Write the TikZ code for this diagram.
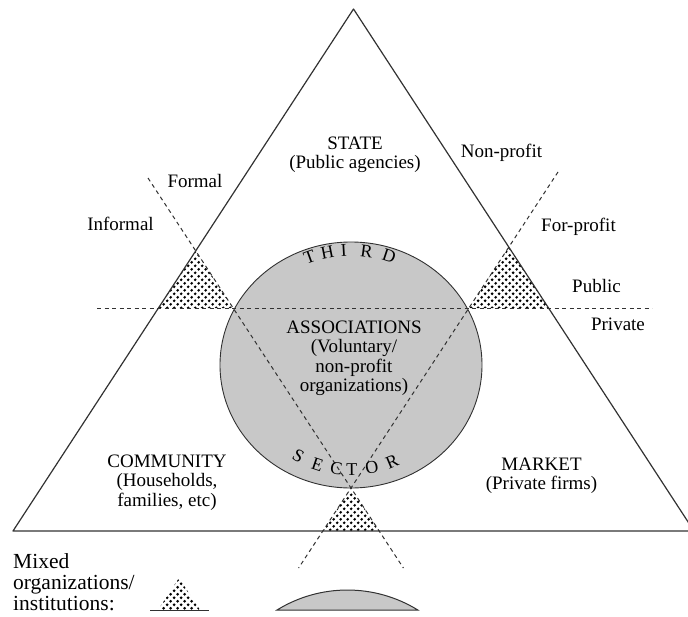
\documentclass[tikz,border=0pt]{standalone}
\usepackage{fontspec}
\setmainfont{Liberation Serif}
\usetikzlibrary{patterns.meta}

\definecolor{circgray}{RGB}{200,200,200}
\definecolor{inkgray}{RGB}{50,50,50}

% checkerboard of dots for the mixed zones
\tikzdeclarepattern{
  name=mixdots,
  type=uncolored,
  bottom left={(0pt,0pt)},
  top right={(7.4pt,7.4pt)},
  tile size={(7.4pt,7.4pt)},
  code={
    \fill (1.85pt,1.85pt) circle (1.6pt);
    \fill (5.55pt,5.55pt) circle (1.6pt);
  }
}

\begin{document}
\begin{tikzpicture}[x=1pt,y=-1pt,
  edge/.style={line width=1.2pt, draw=inkgray},
  divide/.style={line width=1pt, draw=inkgray, dash pattern=on 4pt off 3.5pt},
  mixed/.style={pattern=mixdots, pattern color=black},
  lab/.style={inner sep=0pt, anchor=base, font=\fontsize{19}{19.5}\selectfont},
  arcl/.style={inner sep=0pt, font=\fontsize{18}{18}\selectfont},
]
\useasboundingbox (0,0) rectangle (688,616);
\clip (0,0) rectangle (688,616);

% outer triangle
\coordinate (apex) at (353.5,9);
\coordinate (lc) at (13,531);
\coordinate (rc) at (694,531);

% third sector circle and the inner (dashed) triangle
\coordinate (cc) at (351,365);
\coordinate (hl) at (97,308);
\coordinate (hr) at (652,308);
\coordinate (ltop) at (148,178);
\coordinate (lbot) at (403.4,568);
\coordinate (rtop) at (558,172);
\coordinate (rbot) at (298.6,568);

\coordinate (lm) at (intersection of apex--lc and ltop--lbot);
\coordinate (lh) at (intersection of apex--lc and hl--hr);
\coordinate (li) at (intersection of ltop--lbot and hl--hr);
\coordinate (rm) at (intersection of apex--rc and rtop--rbot);
\coordinate (rh) at (intersection of apex--rc and hl--hr);
\coordinate (ri) at (intersection of rtop--rbot and hl--hr);
\coordinate (bv) at (intersection of ltop--lbot and rtop--rbot);
\coordinate (bl) at (intersection of lc--rc and rtop--rbot);
\coordinate (br) at (intersection of lc--rc and ltop--lbot);

\fill[circgray] (cc) ellipse [x radius=131, y radius=123];
\draw[line width=0.9pt, draw=inkgray] (cc) ellipse [x radius=131, y radius=123];

% mixed zones
\fill[mixed] (lm) -- (lh) -- (li) -- cycle;
\fill[mixed] (rm) -- (rh) -- (ri) -- cycle;
\fill[mixed] (bv) -- (bl) -- (br) -- cycle;

% sector boundaries
\draw[divide] (hl) -- (hr);
\draw[divide] (ltop) -- (lbot);
\draw[divide] (rtop) -- (rbot);

\draw[edge, line join=round] (apex) -- (lc) -- (rc) -- cycle;

% sector labels
\node[lab] (state) at (355,149) {\begin{tabular}[t]{@{}c@{}}STATE\\(Public agencies)\end{tabular}};
\node[lab] (assoc) at (354,333) {\begin{tabular}[t]{@{}c@{}}ASSOCIATIONS\\(Voluntary/\\non-profit\\organizations)\end{tabular}};
\node[lab] (community) at (167,467) {\begin{tabular}[t]{@{}c@{}}COMMUNITY\\(Households,\\families, etc)\end{tabular}};
\node[lab] (market) at (541.5,470) {\begin{tabular}[t]{@{}c@{}}MARKET\\(Private firms)\end{tabular}};

% divide labels
\node[lab] (nonprofit) at (501.5,157) {Non-profit};
\node[lab] (forprofit) at (578.5,231) {For-profit};
\node[lab] (formal) at (195,187) {Formal};
\node[lab] (informal) at (120.5,230) {Informal};
\node[lab] (public) at (596.5,292) {Public};
\node[lab] (private) at (618,330) {Private};

% lettering round the circle
\foreach \ch/\a/\r [count=\i] in {T/-20/20, H/-11.3/11.3, I/-3.4/3.4, R/7.4/-7.4, D/18.4/-18.4}
  \node[arcl, rotate=\r] (third\i) at ({351+121*sin(\a)},{366-116*cos(\a)}) {\ch};
\foreach \ch/\a/\r [count=\i] in {S/30/-30, E/18.6/-18.6, C/8/-8, T/-0.5/0.5, O/-11.5/11.5, R/-23/23}
  \node[arcl, rotate=\r] (sector\i) at ({351-105*sin(\a)},{365+105*cos(\a)}) {\ch};

% key
\node[inner sep=0pt, anchor=base west, font=\fontsize{21.5}{21}\selectfont] (key) at (13,568)
  {\begin{tabular}[t]{@{}l@{}}Mixed\\organizations/\\institutions:\end{tabular}};
\coordinate (ka) at (179,578);
\coordinate (kl) at (158,610);
\coordinate (kr) at (200,610);
\coordinate (kbl) at (150,610);
\coordinate (kbr) at (209,610);
\fill[mixed] (ka) -- (kl) -- (kr) -- cycle;
\draw[line width=1pt, draw=inkgray] (kbl) -- (kbr);
\coordinate (sl) at (277,610);
\draw[line width=1pt, draw=inkgray, fill=circgray] (sl) arc[start angle=-121.7, end angle=-58.3, radius=134] -- cycle;
\end{tikzpicture}
\end{document}
